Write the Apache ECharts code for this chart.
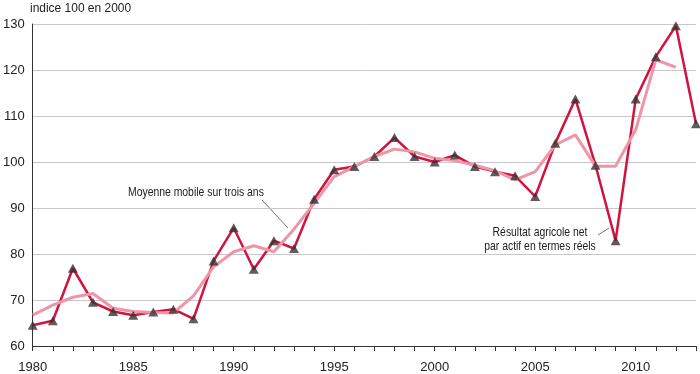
<!DOCTYPE html>
<html><head><meta charset="utf-8">
<script src="https://cdn.jsdelivr.net/npm/echarts@6/dist/echarts.min.js"></script>
<style>html,body{margin:0;padding:0;background:#fff}#c{width:700px;height:374px}</style>
</head><body><div id="c"></div>
<script>
const years = [1980,1981,1982,1983,1984,1985,1986,1987,1988,1989,1990,1991,1992,1993,1994,1995,1996,1997,1998,1999,2000,2001,2002,2003,2004,2005,2006,2007,2008,2009,2010,2011,2012,2013];
const resultatNet = [64.5,65.5,76.9,69.5,67.5,66.7,67.4,68.0,65.9,78.5,85.7,76.7,82.9,81.2,91.9,98.3,99.0,101.2,105.3,101.2,100.0,101.5,99.0,97.9,97.0,92.5,104.1,113.7,99.3,82.9,113.7,122.9,129.6,108.3];
const moyenneMobile = [66.7,68.9,70.6,71.4,68.2,67.5,67.3,67.2,70.9,77.2,80.5,81.8,80.5,85.4,91.0,96.8,99.0,101.2,102.8,102.2,100.8,100.3,99.3,98.1,96.1,97.9,103.7,105.9,99.1,99.1,107.0,122.2,120.6,null];
const yTicks = [60,70,80,90,100,110,120,130];
const xLabelYears = [1980,1985,1990,1995,2000,2005,2010];
const unitLabel = 'indice 100 en 2000';
const labelMA = 'Moyenne mobile sur trois ans';
const labelNet = ['Résultat agricole net','par actif en termes réels'];

const FONT = '"Liberation Sans",Arial,sans-serif';
const chart = echarts.init(document.getElementById('c'), null, {renderer:'canvas'});
const pair = (arr) => years.map((y,i)=>[y,arr[i]]).filter(p=>p[1]!==null);

chart.setOption({
  animation:false,
  backgroundColor:'#fff',
  grid:{left:28,right:4,top:24,bottom:28},
  xAxis:{type:'value',min:1980,max:2013,interval:1,
    axisLine:{show:true,lineStyle:{color:'#333',width:1}},
    axisTick:{show:true,length:5,lineStyle:{color:'#333'}},
    splitLine:{show:false},
    axisLabel:{margin:15,color:'#222',fontSize:13,fontFamily:FONT,
      formatter:v=>xLabelYears.includes(v)?String(v):''}
  },
  yAxis:{type:'value',min:yTicks[0],max:yTicks[yTicks.length-1],interval:10,
    axisLine:{show:true,lineStyle:{color:'#333',width:1}},
    axisTick:{show:false},
    splitLine:{show:true,lineStyle:{color:'#c8c8c8',width:1}},
    axisLabel:{margin:8,color:'#222',fontSize:13,fontFamily:FONT}
  },
  graphic:[
    {type:'group',x:30,y:2,scaleX:0.92,children:[
      {type:'text',style:{text:unitLabel,fill:'#222',font:'13px '+FONT}}]},
    {type:'group',x:128,y:186,scaleX:0.8,children:[
      {type:'text',style:{text:labelMA,fill:'#222',font:'13px '+FONT}}]},
    {type:'line',shape:{x1:262,y1:200,x2:288,y2:228},style:{stroke:'#333',lineWidth:0.7}},
    {type:'group',x:540,y:226,scaleX:0.8,children:[
      {type:'text',style:{text:labelNet[0],fill:'#222',font:'13px '+FONT,align:'center'}},
      {type:'text',y:14,style:{text:labelNet[1],fill:'#222',font:'13px '+FONT,align:'center'}}]},
    {type:'line',shape:{x1:598,y1:235,x2:609,y2:228},style:{stroke:'#333',lineWidth:0.7}}
  ],
  series:[
    {type:'line',data:pair(resultatNet),showSymbol:false,lineStyle:{color:'#d0133f',width:2.5},z:2},
    {type:'line',data:pair(moyenneMobile),showSymbol:false,lineStyle:{color:'#ee95a8',width:3},z:3},
    {type:'scatter',data:pair(resultatNet),symbol:'triangle',symbolSize:[10,9],itemStyle:{color:'#3a3232'},z:4}
  ]
});
</script></body></html>
